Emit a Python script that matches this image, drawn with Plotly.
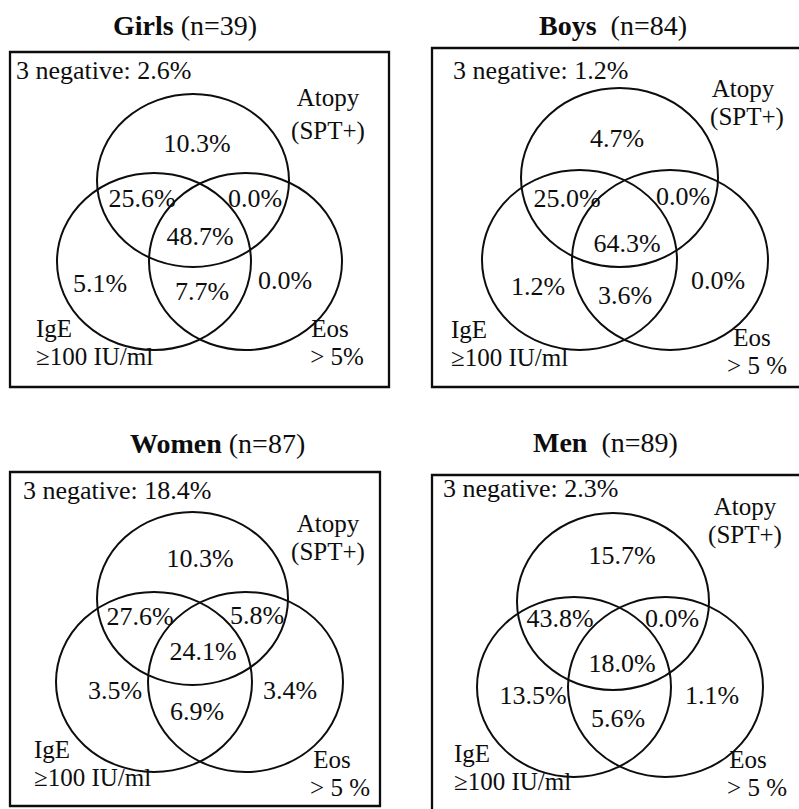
import plotly.graph_objects as go

# ---------------- data ----------------
panel_names = ["Girls", "Boys", "Women", "Men"]
panel_n = [39, 84, 87, 89]
three_negative = [2.6, 1.2, 18.4, 2.3]
# region order: Atopy only, Atopy&IgE, Atopy&Eos, all three, IgE only, IgE&Eos, Eos only
atopy_only = [10.3, 4.7, 10.3, 15.7]
atopy_ige = [25.6, 25.0, 27.6, 43.8]
atopy_eos = [0.0, 0.0, 5.8, 0.0]
all_three = [48.7, 64.3, 24.1, 18.0]
ige_only = [5.1, 1.2, 3.5, 13.5]
ige_eos = [7.7, 3.6, 6.9, 5.6]
eos_only = [0.0, 0.0, 3.4, 1.1]
set_atopy = ["Atopy", "(SPT+)"]
set_ige = ["IgE", "≥100 IU/ml"]
set_eos = [["Eos", "> 5%"], ["Eos", "> 5 %"], ["Eos", "> 5 %"], ["Eos", "> 5 %"]]

# ---------------- layout (pixel positions) ----------------
W, H = 799, 809
FONT = "Liberation Serif"
FS = 26      # region / note text
FS_SET = 25  # set labels
INK = "#0d0d0d"

boxes = [(10, 52, 389, 387), (432, 48, 805, 387), (10, 472, 380, 806), (432, 475, 805, 815)]
titles_xy = [(185, 25), (613, 25), (217, 443), (605, 442)]
title_gap = [" ", "&nbsp; ", " ", "&nbsp; "]
# ellipses: top (atopy), left (IgE), right (Eos)
ellipses = [
    [(97, 94, 289, 267), (57, 173, 251, 350), (149, 173, 342, 350)],
    [(521, 88, 718, 267), (482, 170, 677, 350), (572, 170, 768, 350)],
    [(97, 512, 288, 685), (56, 592, 252, 772), (148, 592, 343, 772)],
    [(517, 513, 709, 690), (477, 597, 671, 777), (568, 597, 763, 777)],
]
# region label centres in the same order as region data
region_xy = [
    [(197, 145), (142, 200), (255, 200), (200, 238), (100, 285), (202, 293), (285, 282)],
    [(617, 140), (567, 200), (683, 198), (627, 245), (538, 288), (625, 297), (718, 282)],
    [(200, 560), (140, 618), (257, 617), (203, 653), (115, 692), (197, 713), (290, 692)],
    [(622, 557), (560, 620), (672, 620), (622, 665), (533, 697), (618, 720), (712, 697)],
]
neg_xy = [(16, 72), (453, 72), (23, 492), (443, 490)]
atopy_xy = [[(328, 100), (328, 133)], [(743, 91), (747, 119)], [(328, 526), (328, 554)], [(745, 509), (745, 537)]]
ige_xy = [[(36, 331), (36, 359)], [(451, 332), (451, 360)], [(34, 752), (34, 780)], [(454, 756), (454, 784)]]
eos_xy = [[(330, 331), (337, 359)], [(752, 340), (757, 368)], [(332, 762), (340, 790)], [(748, 762), (757, 790)]]

fig = go.Figure()
shapes = []
annotations = []

for p in range(4):
    x0, y0, x1, y1 = boxes[p]
    shapes.append(dict(type="rect", xref="x", yref="y", x0=x0, y0=y0, x1=x1, y1=y1,
                       line=dict(color=INK, width=2.3), fillcolor="rgba(0,0,0,0)"))
    for (ex0, ey0, ex1, ey1) in ellipses[p]:
        shapes.append(dict(type="circle", xref="x", yref="y", x0=ex0, y0=ey0, x1=ex1, y1=ey1,
                           line=dict(color=INK, width=2), fillcolor="rgba(0,0,0,0)"))

    tx, ty = titles_xy[p]
    annotations.append(dict(x=tx, y=ty, xref="x", yref="y", showarrow=False,
                            text=f"<b>{panel_names[p]}</b>{title_gap[p]}(n={panel_n[p]})",
                            font=dict(family=FONT, size=28, color=INK)))

    vals = [atopy_only[p], atopy_ige[p], atopy_eos[p], all_three[p],
            ige_only[p], ige_eos[p], eos_only[p]]
    common = dict(mode="text", hoverinfo="skip", showlegend=False, cliponaxis=False)
    big = dict(family=FONT, size=FS, color=INK)
    small = dict(family=FONT, size=FS_SET, color=INK)
    fig.add_trace(go.Scatter(
        x=[xy[0] for xy in region_xy[p]], y=[xy[1] for xy in region_xy[p]],
        text=[f"{v:.1f}%" for v in vals], textposition="middle center",
        textfont=big, **common))

    # 3 negative (left aligned)
    fig.add_trace(go.Scatter(
        x=[neg_xy[p][0]], y=[neg_xy[p][1]],
        text=[f"3 negative: {three_negative[p]:.1f}%"], textposition="middle right",
        textfont=big, **common))

    # set labels
    fig.add_trace(go.Scatter(
        x=[xy[0] for xy in atopy_xy[p]], y=[xy[1] for xy in atopy_xy[p]],
        text=set_atopy, textposition="middle center", textfont=small, **common))
    fig.add_trace(go.Scatter(
        x=[xy[0] for xy in ige_xy[p]], y=[xy[1] for xy in ige_xy[p]],
        text=set_ige, textposition="middle right", textfont=small, **common))
    fig.add_trace(go.Scatter(
        x=[xy[0] for xy in eos_xy[p]], y=[xy[1] for xy in eos_xy[p]],
        text=set_eos[p], textposition="middle center", textfont=small, **common))

fig.update_layout(
    width=W, height=H, margin=dict(l=0, r=0, t=0, b=0),
    paper_bgcolor="white", plot_bgcolor="white",
    xaxis=dict(range=[0, W], visible=False, fixedrange=True),
    yaxis=dict(range=[H, 0], visible=False, fixedrange=True),
    shapes=shapes, annotations=annotations, showlegend=False,
)

fig.write_html("out.html", config={"displayModeBar": False},
               post_script="document.body.style.margin='0';document.body.style.overflow='hidden';")
